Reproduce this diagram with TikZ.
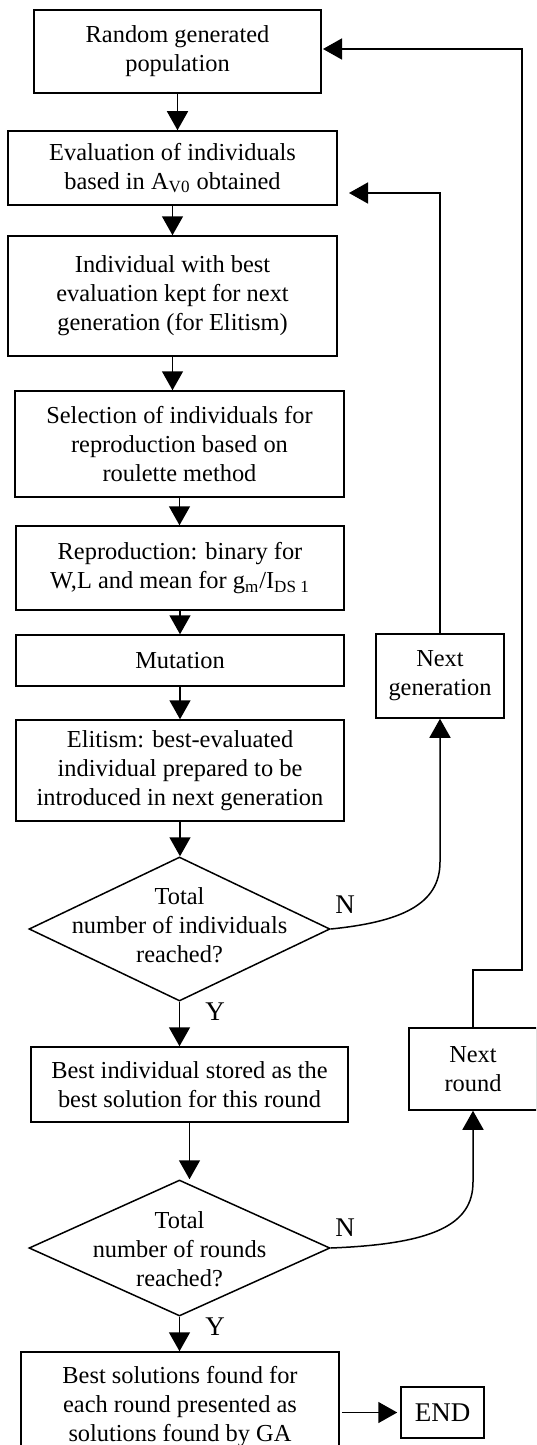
\documentclass[tikz,border=0pt]{standalone}
\usepackage{fontspec}
\setmainfont{Liberation Serif}
\usetikzlibrary{shapes.geometric,arrows.meta}
\begin{document}
\begin{tikzpicture}[x=0.5pt,y=-0.5pt,
        box/.style={draw, line width=0.75pt, align=center, inner sep=2pt, font=\fontsize{12.2}{14.5}\selectfont},
        decision/.style={draw, diamond, line width=0.75pt, inner sep=0pt},
        dectext/.style={align=center, font=\fontsize{12.2}{14.5}\selectfont},
        arr/.style={line width=0.75pt, -{Triangle[length=9.5pt,width=10.5pt]}},
        lbl/.style={font=\fontsize{13.5}{15}\selectfont}]
        \useasboundingbox (0,0) rectangle (536,1445);
        \clip (0,0) rectangle (536,1445);

        % main column
        \node[box, minimum width=143.5pt, minimum height=41.5pt] (pop) at (177.5,51.5) {Random generated\\population};
        \node[box, minimum width=164.5pt, minimum height=37pt] (eval) at (172.5,168) {Evaluation of individuals\\based in A\textsubscript{V0} obtained};
        \node[box, minimum width=164.5pt, minimum height=60pt] (keep) at (172.5,296) {Individual with best\\evaluation kept for next\\generation (for Elitism)};
        \node[box, minimum width=164.5pt, minimum height=53pt] (select) at (179.5,444) {Selection of individuals for\\reproduction based on\\roulette method};
        \node[box, minimum width=164pt, minimum height=42pt] (repro) at (180,568) {Reproduction: binary for\\W,L and mean for g\textsubscript{m}/I\textsubscript{DS 1}};
        \node[box, minimum width=164pt, minimum height=25.5pt] (mutation) at (180,660.5) {Mutation};
        \node[box, minimum width=164pt, minimum height=50.5pt] (elitism) at (180,770.5) {Elitism: best-evaluated\\individual prepared to be\\introduced in next generation};
        \node[decision, minimum width=150.5pt, minimum height=72pt] (dec1) at (179.5,929) {};
        \node[dectext] (dec1txt) at (179.5,925) {Total\\number of individuals\\reached?};
        \node[box, minimum width=158.5pt, minimum height=37.5pt] (store) at (189.5,1084.5) {Best individual stored as the\\best solution for this round};
        \node[decision, minimum width=150.5pt, minimum height=68pt] (dec2) at (179.5,1248) {};
        \node[dectext] (dec2txt) at (179.5,1249) {Total\\number of rounds\\reached?};
        \node[box, minimum width=159pt, minimum height=55pt] (final) at (180,1407) {Best solutions found for\\each round presented as\\solutions found by GA};
        \node[box, minimum width=41.5pt, minimum height=25.5pt, font=\fontsize{13.5}{15}\selectfont] (end) at (442.5,1412.5) {END};

        % side column
        \node[box, minimum width=64pt, minimum height=42pt] (nextgen) at (440,676) {Next\\generation};
        \node[box, minimum width=64pt, minimum height=41pt] (nextround) at (473,1069) {Next\\round};

        % straight flow
        \draw[arr] (pop.south) -- (pop.south |- eval.north);
        \draw[arr] (eval.south) -- (eval.south |- keep.north);
        \draw[arr] (keep.south) -- (keep.south |- select.north);
        \draw[arr] (select.south) -- (select.south |- repro.north);
        \draw[arr] (repro.south) -- (repro.south |- mutation.north);
        \draw[arr] (mutation.south) -- (mutation.south |- elitism.north);
        \draw[arr] (elitism.south) -- (elitism.south |- dec1.north);
        \draw[arr] (dec1.south) -- (dec1.south |- store.north);
        \draw[arr] (store.south) -- (store.south |- dec2.north);
        \draw[arr] (dec2.south) -- (dec2.south |- final.north);
        \draw[arr] ([xshift=1pt]final.east |- end.west) -- ([xshift=-1.5pt]end.west);

        % loops back
        \coordinate (evalin) at (349,193);
        \coordinate (popin) at (323,49);
        \coordinate (turn) at (522,970);
        \draw[arr] (dec1.east) .. controls (400,922) and (440,905) .. (440,862) -- (nextgen.south);
        \draw[arr] (nextgen.north) |- (evalin);
        \draw[arr] (dec2.east) .. controls (433,1244) and (473,1225) .. (473,1182) -- (nextround.south);
        \draw[arr] (nextround.north) |- (turn) |- (popin);

        \node[lbl] (n1) at (345,905) {N};
        \node[lbl] (y1) at (215,1012) {Y};
        \node[lbl] (n2) at (345,1228) {N};
        \node[lbl] (y2) at (215,1327) {Y};
    \end{tikzpicture}
\end{document}
